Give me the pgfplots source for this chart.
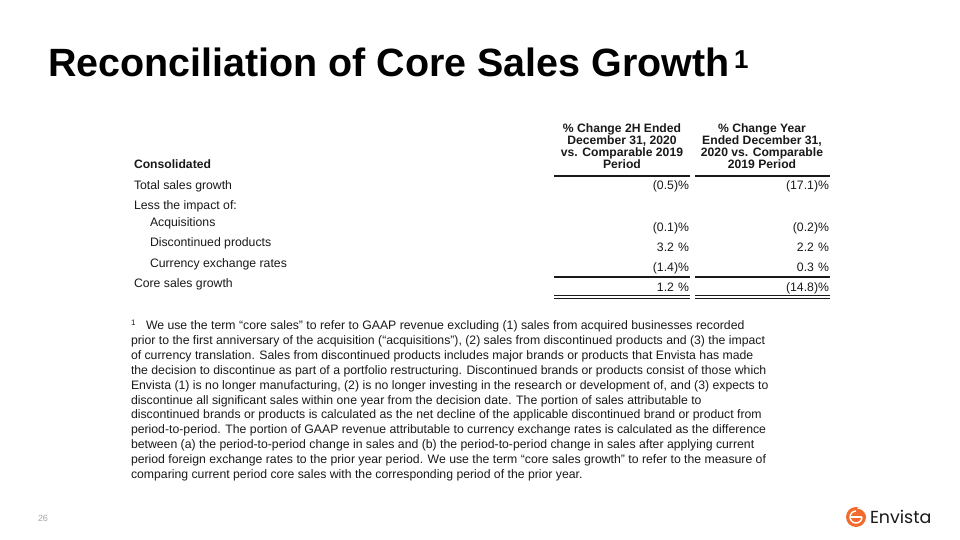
\documentclass[border=0pt]{standalone}
\usepackage{pgfplots}
\pgfplotsset{compat=1.18}
\usepackage{fontspec}
\setmainfont{Liberation Sans}
\newfontfamily\logofont{Poppins}
\definecolor{txt}{HTML}{1A1A1A}
\definecolor{envorange}{HTML}{F26A2E}
\definecolor{pgnum}{HTML}{A6A6A6}
\tikzset{t/.style={inner sep=0pt,outer sep=0pt,anchor=base west,text=txt},
  r/.style={inner sep=0pt,outer sep=0pt,anchor=base east,text=txt,font=\fontsize{12.3}{12.3}\selectfont},
  h/.style={inner sep=0pt,outer sep=0pt,anchor=base,text=txt,font=\fontsize{12.2}{12.2}\selectfont\bfseries},
  lab/.style={t,font=\fontsize{12.3}{12.3}\selectfont},
  fn/.style={t,font=\fontsize{12.3}{12.3}\selectfont}}
\begin{document}
\begin{tikzpicture}
\begin{axis}[width=960bp,height=540bp,scale only axis,
  xmin=0,xmax=960,ymin=0,ymax=540,y dir=reverse,
  axis lines=none,ticks=none,clip=false]
\fill[white] (axis cs:0,0) rectangle (axis cs:960,540);
% Title
\node[t,font=\fontsize{39.6}{39.6}\selectfont\bfseries,text=black] at (axis cs:48,77) {Reconciliation of Core Sales Growth};
\node[t,font=\fontsize{26}{26}\selectfont\bfseries,text=black] at (axis cs:734,69) {1};
% Table header
\node[t,font=\fontsize{12.2}{12.2}\selectfont\bfseries] at (axis cs:134,169) {Consolidated};
\node[h] at (axis cs:622,133) {\% Change 2H Ended};
\node[h] at (axis cs:622,145) {December 31, 2020};
\node[h] at (axis cs:622,157) {vs. Comparable 2019};
\node[h] at (axis cs:622,169) {Period};
\node[h] at (axis cs:762,133) {\% Change Year};
\node[h] at (axis cs:762,145) {Ended December 31,};
\node[h] at (axis cs:762,157) {2020 vs. Comparable};
\node[h] at (axis cs:762,169) {2019 Period};
% rules
\addplot[txt,line width=1.6bp] coordinates {(554,176) (690,176)};
\addplot[txt,line width=1.6bp] coordinates {(695,176) (830,176)};
\addplot[txt,line width=1.2bp] coordinates {(554,277) (690,277)};
\addplot[txt,line width=1.2bp] coordinates {(695,277) (830,277)};
\addplot[txt,line width=0.9bp] coordinates {(554,295.5) (690,295.5)};
\addplot[txt,line width=0.9bp] coordinates {(695,295.5) (830,295.5)};
\addplot[txt,line width=0.9bp] coordinates {(554,298.5) (690,298.5)};
\addplot[txt,line width=0.9bp] coordinates {(695,298.5) (830,298.5)};
% rows
\node[lab] at (axis cs:134,190) {Total sales growth};
\node[lab] at (axis cs:134,210) {Less the impact of:};
\node[lab] at (axis cs:150,227) {Acquisitions};
\node[lab] at (axis cs:150,247) {Discontinued products};
\node[lab] at (axis cs:150,268) {Currency exchange rates};
\node[lab] at (axis cs:134,288) {Core sales growth};
\node[r] at (axis cs:689,190) {(0.5)\%};
\node[r] at (axis cs:829,190) {(17.1)\%};
\node[r] at (axis cs:689,232) {(0.1)\%};
\node[r] at (axis cs:829,232) {(0.2)\%};
\node[r] at (axis cs:689,252) {3.2\phantom{)}\%};
\node[r] at (axis cs:829,252) {2.2\phantom{)}\%};
\node[r] at (axis cs:689,272) {(1.4)\%};
\node[r] at (axis cs:829,272) {0.3\phantom{)}\%};
\node[r] at (axis cs:689,292) {1.2\phantom{)}\%};
\node[r] at (axis cs:829,292) {(14.8)\%};
% footnote
\node[t,font=\fontsize{8}{8}\selectfont] at (axis cs:131,326) {1};
\node[fn] at (axis cs:146,330.0) {We use the term “core sales” to refer to GAAP revenue excluding (1) sales from acquired businesses recorded};
\node[fn] at (axis cs:131,344.8) {prior to the first anniversary of the acquisition (“acquisitions”), (2) sales from discontinued products and (3) the impact};
\node[fn] at (axis cs:131,359.6) {of currency translation. Sales from discontinued products includes major brands or products that Envista has made};
\node[fn] at (axis cs:131,374.4) {the decision to discontinue as part of a portfolio restructuring. Discontinued brands or products consist of those which};
\node[fn] at (axis cs:131,389.2) {Envista (1) is no longer manufacturing, (2) is no longer investing in the research or development of, and (3) expects to};
\node[fn] at (axis cs:131,404.0) {discontinue all significant sales within one year from the decision date. The portion of sales attributable to};
\node[fn] at (axis cs:131,418.8) {discontinued brands or products is calculated as the net decline of the applicable discontinued brand or product from};
\node[fn] at (axis cs:131,433.6) {period-to-period. The portion of GAAP revenue attributable to currency exchange rates is calculated as the difference};
\node[fn] at (axis cs:131,448.4) {between (a) the period-to-period change in sales and (b) the period-to-period change in sales after applying current};
\node[fn] at (axis cs:131,463.2) {period foreign exchange rates to the prior year period. We use the term “core sales growth” to refer to the measure of};
\node[fn] at (axis cs:131,478.0) {comparing current period core sales with the corresponding period of the prior year.};
% page number
\node[t,font=\fontsize{9}{9}\selectfont,text=pgnum] at (axis cs:38,521) {26};
% logo
\fill[envorange] (axis cs:856,517) circle[radius=10bp];
\draw[white,line width=1.4bp] (axis cs:850,517) -- (axis cs:862,517);
\draw[white,line width=1.4bp] (axis cs:862,517) arc[start angle=0,end angle=-270,radius=6bp];
\draw[white,line width=1.2bp] (axis cs:866,514) arc[start angle=20,end angle=90,radius=9bp];
\node[t,font=\logofont\fontsize{17.5}{17.5}\selectfont] at (axis cs:870,523) {Envista};
\end{axis}
\end{tikzpicture}
\end{document}
